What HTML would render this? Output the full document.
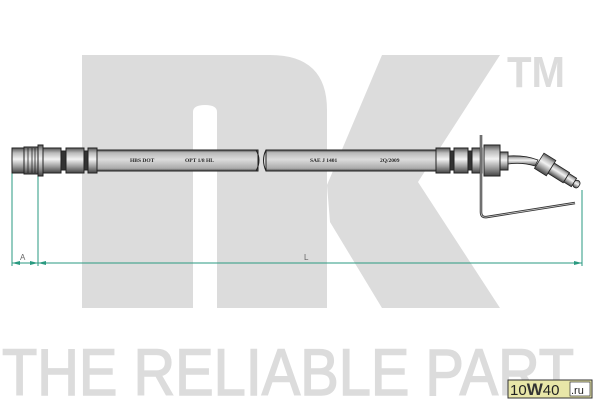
<!DOCTYPE html>
<html><head><meta charset="utf-8"><style>html,body{margin:0;padding:0;background:#fff}svg{display:block}</style></head>
<body>
<svg width="600" height="400" viewBox="0 0 600 400" xmlns="http://www.w3.org/2000/svg">
<defs>
<linearGradient id="m" x1="0" y1="0" x2="0" y2="1">
<stop offset="0" stop-color="#555"/><stop offset="0.2" stop-color="#bbb"/><stop offset="0.45" stop-color="#f2f2f2"/><stop offset="0.75" stop-color="#999"/><stop offset="1" stop-color="#444"/>
</linearGradient>
<linearGradient id="h" x1="0" y1="0" x2="0" y2="1">
<stop offset="0" stop-color="#444"/><stop offset="0.12" stop-color="#b8b8b8"/><stop offset="0.45" stop-color="#dcdcdc"/><stop offset="0.88" stop-color="#aaa"/><stop offset="1" stop-color="#444"/>
</linearGradient>
</defs>
<g fill="#dcdcdc">
<path d="M82 55 H270 Q327 55 327 110 V308 H217 V112 Q217 105 205 105 Q193 105 193 112 V308 H82 Z"/>
<polygon points="327,185 382,55 500,55 418,182 500,308 382,308 330,222"/>
<text x="507" y="87" font-family="Liberation Sans, sans-serif" font-weight="bold" font-size="44" textLength="58" lengthAdjust="spacingAndGlyphs">TM</text>
</g>
<text x="2" y="395" font-family="Liberation Sans, sans-serif" font-size="66" fill="#dcdcdc" stroke="#dcdcdc" stroke-width="1.5" textLength="572" lengthAdjust="spacingAndGlyphs">THE RELIABLE PART</text>
<g stroke="#2a9a80" stroke-width="1" fill="none">
<line x1="12" y1="172" x2="12" y2="266"/>
<line x1="38" y1="172" x2="38" y2="266"/>
<line x1="582" y1="190" x2="582" y2="266"/>
<line x1="12" y1="263" x2="582" y2="263"/>
</g>
<g fill="#2a9a80"><polygon points="12,263 20,261 20,265"/><polygon points="38,263 30,261 30,265"/><polygon points="38,263 46,261 46,265"/><polygon points="582,263 574,261 574,265"/></g>
<text x="20" y="260" font-family="Liberation Sans, sans-serif" font-size="8" fill="#666">A</text>
<text x="304" y="260" font-family="Liberation Sans, sans-serif" font-size="8" fill="#666">L</text>
<g stroke="#222" stroke-width="1">
<rect x="95" y="150" width="163" height="21" fill="url(#h)"/>
<rect x="266" y="150" width="172" height="21" fill="url(#h)"/>
<rect x="12" y="148" width="12" height="25" fill="url(#m)"/>
<rect x="24" y="147" width="14" height="27" fill="url(#m)"/>
<rect x="38" y="145" width="5" height="31" fill="url(#m)"/>
<rect x="43" y="148" width="18" height="25" fill="url(#m)"/>
<rect x="61" y="151" width="5" height="19" fill="#333"/>
<rect x="66" y="148" width="18" height="25" fill="url(#m)"/>
<rect x="84" y="151" width="4" height="19" fill="#333"/>
<rect x="88" y="148" width="9" height="25" fill="url(#m)"/>
<rect x="436" y="148" width="14" height="25" fill="url(#m)"/>
<rect x="450" y="151" width="4" height="19" fill="#333"/>
<rect x="454" y="148" width="14" height="25" fill="url(#m)"/>
<rect x="468" y="151" width="4" height="19" fill="#333"/>
<rect x="472" y="148" width="10" height="25" fill="url(#m)"/>
<rect x="484" y="145" width="16" height="31" fill="url(#m)"/>
<rect x="500" y="152" width="8" height="18" fill="url(#m)"/>
</g>
<g stroke="#222" stroke-width="0.8" fill="none"><line x1="28" y1="148" x2="28" y2="173"/><line x1="32" y1="148" x2="32" y2="173"/><line x1="35" y1="148" x2="35" y2="173"/></g>
<path d="M508 156 Q525 155 538 160 L535 166 Q522 162 508 164 Z" fill="url(#m)" stroke="#222" stroke-width="0.8"/>
<g transform="translate(546,165) rotate(32)" stroke="#222" stroke-width="0.8">
<rect x="-8" y="-9" width="14" height="18" fill="url(#m)"/>
<rect x="6" y="-6" width="18" height="12" fill="url(#m)"/>
<rect x="24" y="-5" width="9" height="10" fill="url(#m)"/>
<rect x="33" y="-4" width="6" height="8" rx="3" fill="url(#m)"/>
</g>
<path d="M481 135 V212 Q481 218 487 217 L575 203" fill="none" stroke="#333" stroke-width="2.5"/>
<path d="M481 135 V212 Q481 218 487 217 L575 203" fill="none" stroke="#ccc" stroke-width="0.8"/>
<path d="M256 150 Q262 160 256 171 M266 150 Q261 160 266 171" fill="none" stroke="#222"/>
<g font-family="Liberation Serif, serif" font-weight="bold" font-size="5.5" fill="#222">
<text x="130" y="162">HBS DOT</text>
<text x="185" y="162">OPT 1/8 HL</text>
<text x="310" y="162">SAE J 1401</text>
<text x="380" y="162">2Q/2009</text>
</g>
<rect x="508" y="380" width="84" height="18" fill="#e8e6a8" stroke="#333"/>
<rect x="570" y="382" width="20" height="14" fill="#fff" stroke="#333" stroke-width="0.7"/>
<text x="510" y="395" font-family="Liberation Sans, sans-serif" font-size="15" fill="#222">10<tspan font-weight="bold" font-size="17" fill="#333">W</tspan>40</text>
<text x="571" y="394" font-family="Liberation Sans, sans-serif" font-size="11" fill="#222">.ru</text>
</svg>
</body></html>
